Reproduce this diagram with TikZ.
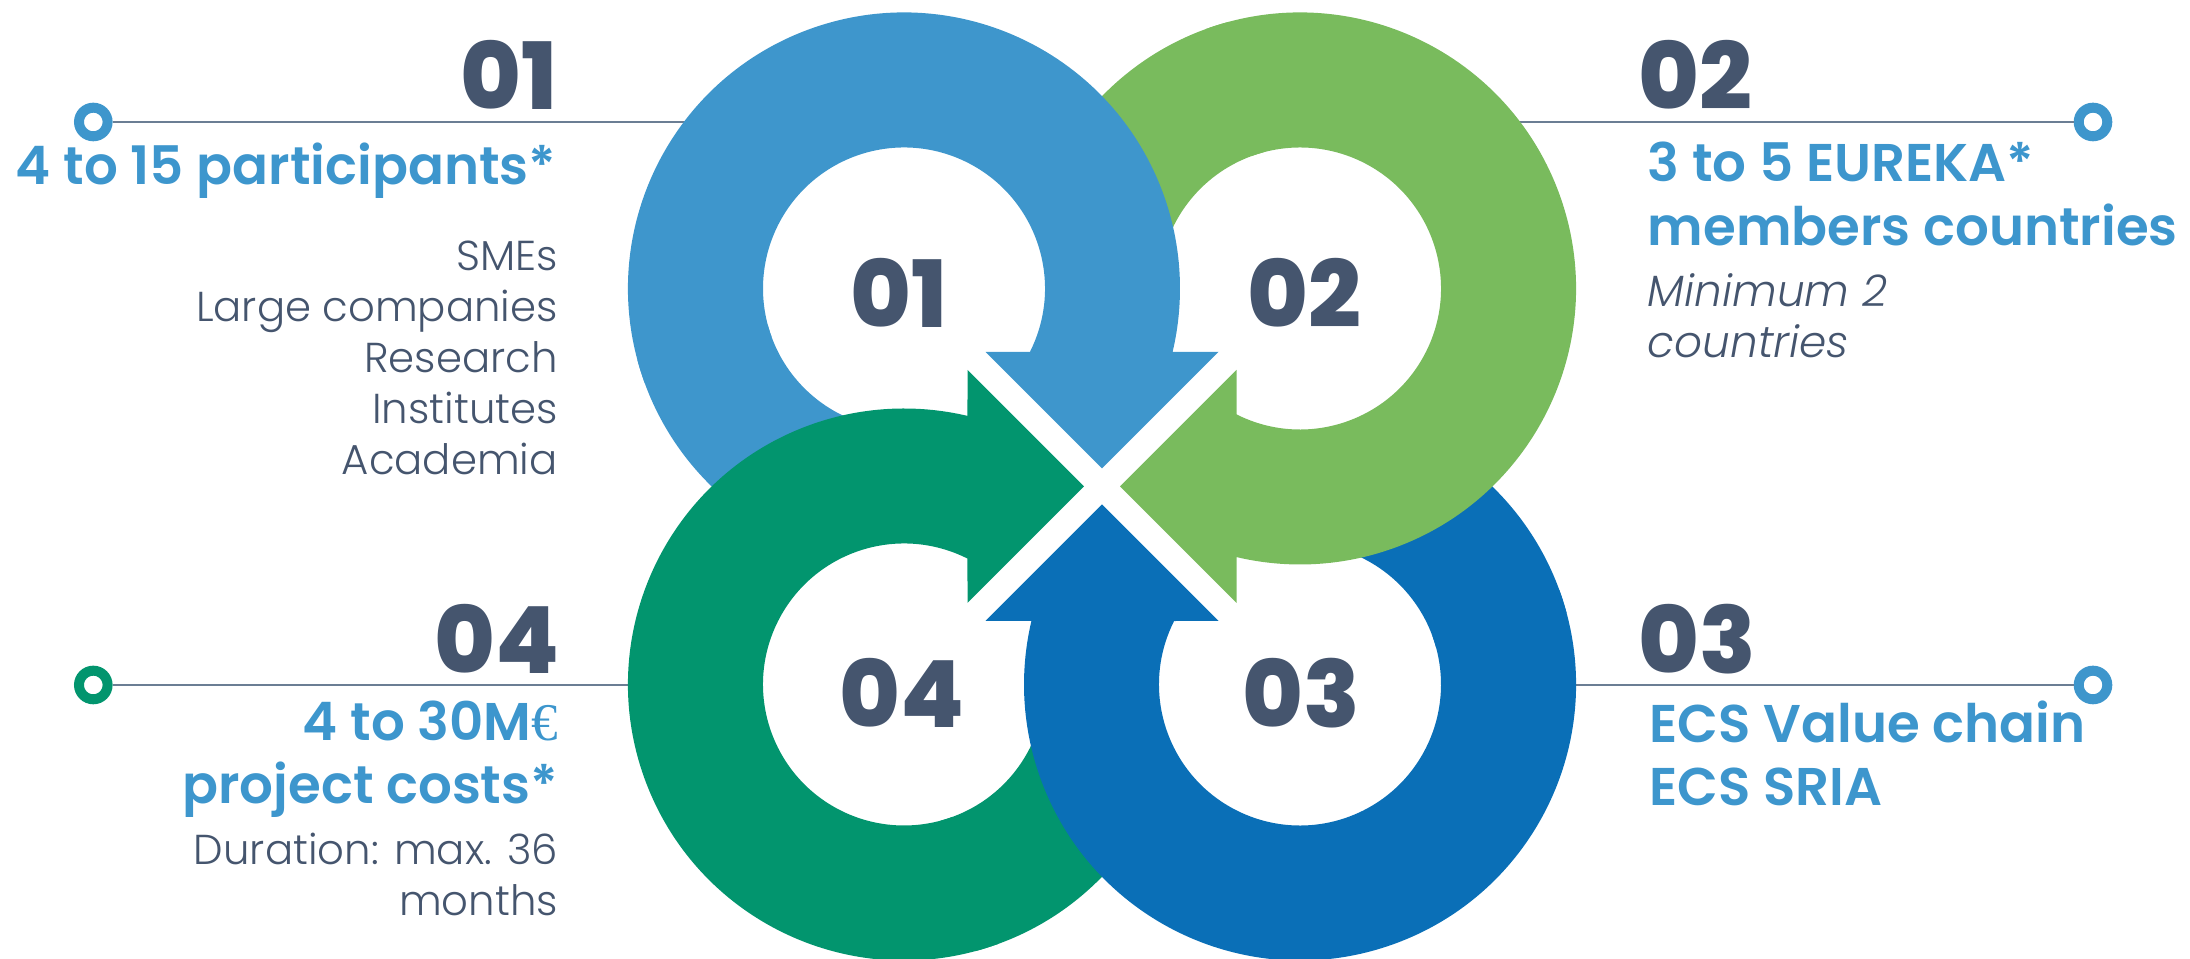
\documentclass[tikz,border=0pt]{standalone}
\usepackage{fontspec}
\setmainfont{Poppins Light}[ItalicFont={Poppins Light Italic}]
\newfontfamily\headfont{Poppins SemiBold}
\newfontfamily\numfont{Poppins ExtraBold}
\newfontfamily\eurofont{Liberation Serif}
\definecolor{ringA}{HTML}{3E96CC}
\definecolor{ringB}{HTML}{79BB5D}
\definecolor{ringC}{HTML}{0A6FB7}
\definecolor{ringD}{HTML}{02956E}
\definecolor{numgray}{HTML}{45556E}
\definecolor{headblue}{HTML}{3D96CD}
\definecolor{rulegray}{HTML}{6B7E94}

\begin{document}
\begin{tikzpicture}[
    bignum/.style={inner sep=0pt, text=numgray, font=\numfont\fontsize{26.4}{30}\selectfont},
    head/.style={inner sep=0pt, text=headblue, font=\headfont\fontsize{15.1}{18.04}\selectfont},
    body/.style={inner sep=0pt, text=numgray, font=\fontsize{11.9}{14.5}\selectfont},
    marker/.style={circle, draw=#1, fill=white, line width=0.1cm, minimum size=0.286cm, inner sep=0pt},
    rule/.style={rulegray, line width=0.8pt}]
    \useasboundingbox (0,0) rectangle (21.9,9.59);
    \coordinate (O) at (11.02,4.725);

    % markers and rules
    \node[marker=ringA] (m1) at (0.933,8.37) {};
    \node[marker=ringA] (m2) at (20.93,8.37) {};
    \node[marker=ringA] (m3) at (20.93,2.74) {};
    \node[marker=ringD] (m4) at (0.933,2.74) {};
    \coordinate (e1) at (9.04,8.37);
    \coordinate (e2) at (13.00,8.37);
    \coordinate (e3) at (15.46,2.74);
    \coordinate (e4) at (6.58,2.74);
    \draw[rule] (m1) -- (e1);
    \draw[rule] (m2) -- (e2);
    \draw[rule] (m3) -- (e3);
    \draw[rule] (m4) -- (e4);

    % tails first, so that every arrow lies over the tail of the next one
    \foreach \k/\col in {0/ringA,1/ringB,2/ringC,3/ringD} {
      \begin{scope}[shift={(O)}, rotate=-90*\k, shift={(-1.98,1.98)}]
        \fill[\col] (250:2.76) arc[start angle=250, end angle=195, radius=2.76]
          -- (195:1.41) arc[start angle=195, end angle=250, radius=1.41] -- cycle;
      \end{scope}
    }
    \foreach \k/\col in {0/ringA,1/ringB,2/ringC,3/ringD} {
      \begin{scope}[shift={(O)}, rotate=-90*\k, shift={(-1.98,1.98)}]
        \fill[\col] (200:2.76) arc[start angle=200, end angle=-13.30, radius=2.76]
          -- (3.145,-0.635) -- (1.98,-1.80) -- (0.815,-0.635)
          -- (-26.76:1.41) arc[start angle=-26.76, end angle=200, radius=1.41] -- cycle;
      \end{scope}
    }

    % numbers in the rings
    \node[bignum] (n1) at (8.99,6.66) {01};
    \node[bignum] (n2) at (13.04,6.66) {02};
    \node[bignum] (n3) at (13.01,2.66) {03};
    \node[bignum] (n4) at (9.02,2.66) {04};

    % side numbers
    \node[bignum, anchor=base east] (t1) at (5.58,8.497) {01};
    \node[bignum, anchor=base west] (t2) at (16.38,8.497) {02};
    \node[bignum, anchor=base west] (t3) at (16.38,2.857) {03};
    \node[bignum, anchor=base east] (t4) at (5.60,2.857) {04};

    % texts
    \node[head, anchor=base east] (h1) at (5.57,7.74) {4 to 15 participants*};
    \node[body, anchor=north east, align=right] (b1) at (5.585,7.183)
      {SMEs\\Large companies\\Research\\Institutes\\Academia};
    \node[head, anchor=north west, align=left] (h2) at (16.47,8.173)
      {3 to 5 EUREKA*\\members countries};
    \node[body, anchor=north west, align=left, font=\itshape\fontsize{12.45}{14.3}\selectfont] (b2) at (16.47,6.857)
      {Minimum 2\\countries};
    \node[head, anchor=north west, align=left] (h3) at (16.49,2.59)
      {ECS Value chain\\ECS SRIA};
    \node[head, anchor=north east, align=right] (h4) at (5.587,2.59)
      {4 to 30M{\eurofont €}\hspace{0.146cm}\\project costs*};
    \node[body, anchor=north east, align=right] (b4) at (5.587,1.263)
      {Duration: max. 36\\months};
  \end{tikzpicture}
\end{document}
